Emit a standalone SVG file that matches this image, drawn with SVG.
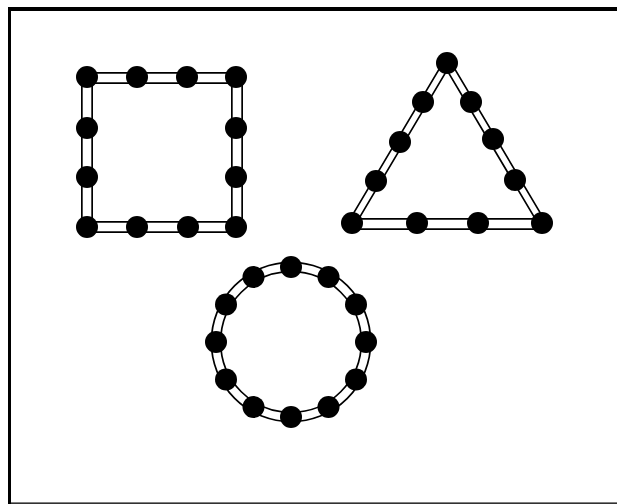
<svg xmlns="http://www.w3.org/2000/svg" width="617" height="504" viewBox="0 0 617 504">
<style>
.dot{fill:#000}
.barO{fill:none;stroke:#000;stroke-width:12}
.barI{fill:none;stroke:#fff;stroke-width:8.6}
.thinO{fill:none;stroke:#000;stroke-width:9}
.thinI{fill:none;stroke:#fff;stroke-width:5.6}
</style>
<rect x="0" y="0" width="617" height="504" fill="#fff"/>
<g id="frame">
<rect x="8" y="7" width="609" height="4" fill="#000"/>
<rect x="8" y="7" width="3" height="497" fill="#000"/>
<rect x="8" y="502.5" width="609" height="1.3" fill="#000"/>
</g>
<g id="connectors">
<path class="barO" d="M87,78 H237 V227 H87 Z"/>
<path class="barI" d="M87,78 H237 V227 H87 Z"/>
<path class="thinO" d="M352,223 L447,63 L542,223"/>
<path class="thinI" d="M352,223 L447,63 L542,223"/>
<path class="barO" d="M352,224 H542"/>
<path class="barI" d="M352,224 H542"/>
<circle cx="291" cy="342" r="75" fill="none" stroke="#000" stroke-width="11"/>
<circle cx="291" cy="342" r="75" fill="none" stroke="#fff" stroke-width="7.6"/>
</g>
<g id="square">
<circle class="dot" cx="87" cy="77" r="11"/>
<circle class="dot" cx="137" cy="77" r="11"/>
<circle class="dot" cx="187" cy="77" r="11"/>
<circle class="dot" cx="236" cy="77" r="11"/>
<circle class="dot" cx="87" cy="128" r="11"/>
<circle class="dot" cx="236" cy="128" r="11"/>
<circle class="dot" cx="87" cy="177" r="11"/>
<circle class="dot" cx="236" cy="177" r="11"/>
<circle class="dot" cx="87" cy="227" r="11"/>
<circle class="dot" cx="137" cy="227" r="11"/>
<circle class="dot" cx="188" cy="227" r="11"/>
<circle class="dot" cx="236" cy="227" r="11"/>
</g>
<g id="triangle">
<circle class="dot" cx="447" cy="63" r="11"/>
<circle class="dot" cx="423" cy="102" r="11"/>
<circle class="dot" cx="400" cy="142" r="11"/>
<circle class="dot" cx="376" cy="181" r="11"/>
<circle class="dot" cx="471" cy="102" r="11"/>
<circle class="dot" cx="493" cy="139" r="11"/>
<circle class="dot" cx="515" cy="180" r="11"/>
<circle class="dot" cx="352" cy="223" r="11"/>
<circle class="dot" cx="417" cy="223" r="11"/>
<circle class="dot" cx="478" cy="223" r="11"/>
<circle class="dot" cx="542" cy="223" r="11"/>
</g>
<g id="circle">
<circle class="dot" cx="291" cy="267" r="11"/>
<circle class="dot" cx="328.5" cy="277" r="11"/>
<circle class="dot" cx="356" cy="304.5" r="11"/>
<circle class="dot" cx="366" cy="342" r="11"/>
<circle class="dot" cx="356" cy="379.5" r="11"/>
<circle class="dot" cx="328.5" cy="407" r="11"/>
<circle class="dot" cx="291" cy="417" r="11"/>
<circle class="dot" cx="253.5" cy="407" r="11"/>
<circle class="dot" cx="226" cy="379.5" r="11"/>
<circle class="dot" cx="216" cy="342" r="11"/>
<circle class="dot" cx="226" cy="304.5" r="11"/>
<circle class="dot" cx="253.5" cy="277" r="11"/>
</g>
</svg>
